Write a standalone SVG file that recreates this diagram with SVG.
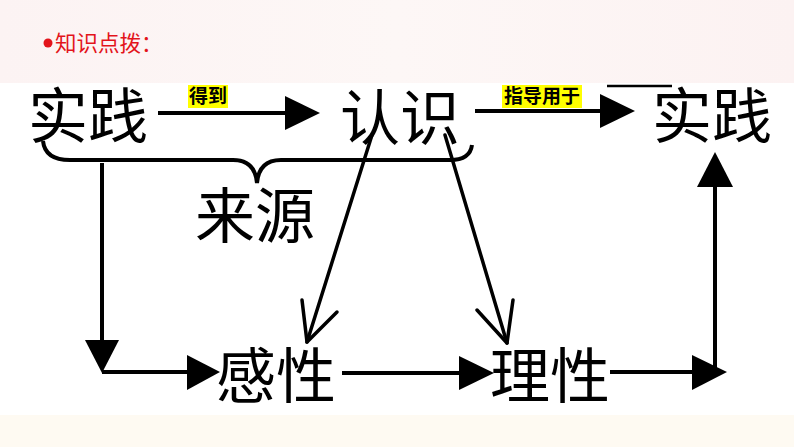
<svg xmlns="http://www.w3.org/2000/svg" width="794" height="447" viewBox="0 0 794 447">
<defs>
<linearGradient id="topbg" x1="0" y1="0" x2="1" y2="0">
<stop offset="0" stop-color="#fcf3f3"/>
<stop offset="0.5" stop-color="#fdf7f6"/>
<stop offset="1" stop-color="#fcf2f2"/>
</linearGradient>
<style>
.big{font-family:"Noto Sans CJK SC","Noto Sans CJK JP",sans-serif;font-size:60px;fill:#000}
.lab{font-family:"Noto Sans CJK SC","Noto Sans CJK JP",sans-serif;font-size:19px;font-weight:bold;fill:#000;text-anchor:middle}
.ln{stroke:#000;stroke-width:4;fill:none}
.thin{stroke:#000;stroke-width:3.5;fill:none;stroke-linecap:round;stroke-linejoin:round}
.hd{fill:#000}
</style>
</defs>
<rect x="0" y="0" width="794" height="447" fill="#ffffff"/>
<rect x="0" y="0" width="794" height="83" fill="url(#topbg)"/>
<rect x="0" y="415" width="794" height="32" fill="#fefaf2"/>
<g id="title">
<circle cx="48" cy="43" r="4.5" fill="#e3141b"/>
<text x="55" y="51" font-family="Noto Sans CJK SC, sans-serif" font-size="21.5" fill="#e3141b">知识点拨：</text>
</g>
<g id="connectors">
<line class="ln" x1="158" y1="113" x2="288" y2="113"/>
<polygon class="hd" points="285,96 285,130 320,113"/>
<line class="ln" x1="475" y1="111" x2="603" y2="111"/>
<polygon class="hd" points="600,94 600,128 635,111"/>
<line x1="607" y1="86" x2="672" y2="86" stroke="#000" stroke-width="2.5"/>
<path class="ln" d="M43,141 Q45,160 70,160 L233,160 Q255,160 257,183 Q259,160 281,160 L450,160 Q470,160 472,145"/>
<line class="ln" x1="102" y1="163" x2="102" y2="342"/>
<polygon class="hd" points="85,340 119,340 102,373"/>
<line class="ln" x1="102" y1="372" x2="190" y2="372"/>
<polygon class="hd" points="187,355 187,390 220,372"/>
<line class="thin" x1="372" y1="135" x2="307" y2="342"/>
<polyline class="thin" points="302,300 307,342 337,312"/>
<line class="thin" x1="445" y1="135" x2="507" y2="343"/>
<polyline class="thin" points="477,310 507,343 513,300"/>
<line class="ln" x1="342" y1="373" x2="462" y2="373"/>
<polygon class="hd" points="459,356 459,390 494,373"/>
<line class="ln" x1="610" y1="372" x2="695" y2="372"/>
<polygon class="hd" points="692,355 692,390 727,372"/>
<line class="ln" x1="715" y1="374" x2="715" y2="185"/>
<polygon class="hd" points="697,187 733,187 715,152"/>
</g>
<g id="label-dedao">
<rect x="188" y="85" width="40" height="23" fill="#ffff00"/>
<text class="lab" x="208" y="103">得到</text>
</g>
<g id="label-zhidao">
<rect x="502" y="85" width="80" height="23" fill="#ffff00"/>
<text class="lab" x="542" y="103">指导用于</text>
</g>
<g id="node-shijian1"><text class="big" x="28" y="138">实践</text></g>
<g id="node-renshi"><text class="big" x="340" y="140">认识</text></g>
<g id="node-shijian2"><text class="big" x="652" y="138">实践</text></g>
<g id="node-laiyuan"><text class="big" x="195" y="238">来源</text></g>
<g id="node-ganxing"><text class="big" x="216" y="398">感性</text></g>
<g id="node-lixing"><text class="big" x="490" y="398">理性</text></g>
</svg>
